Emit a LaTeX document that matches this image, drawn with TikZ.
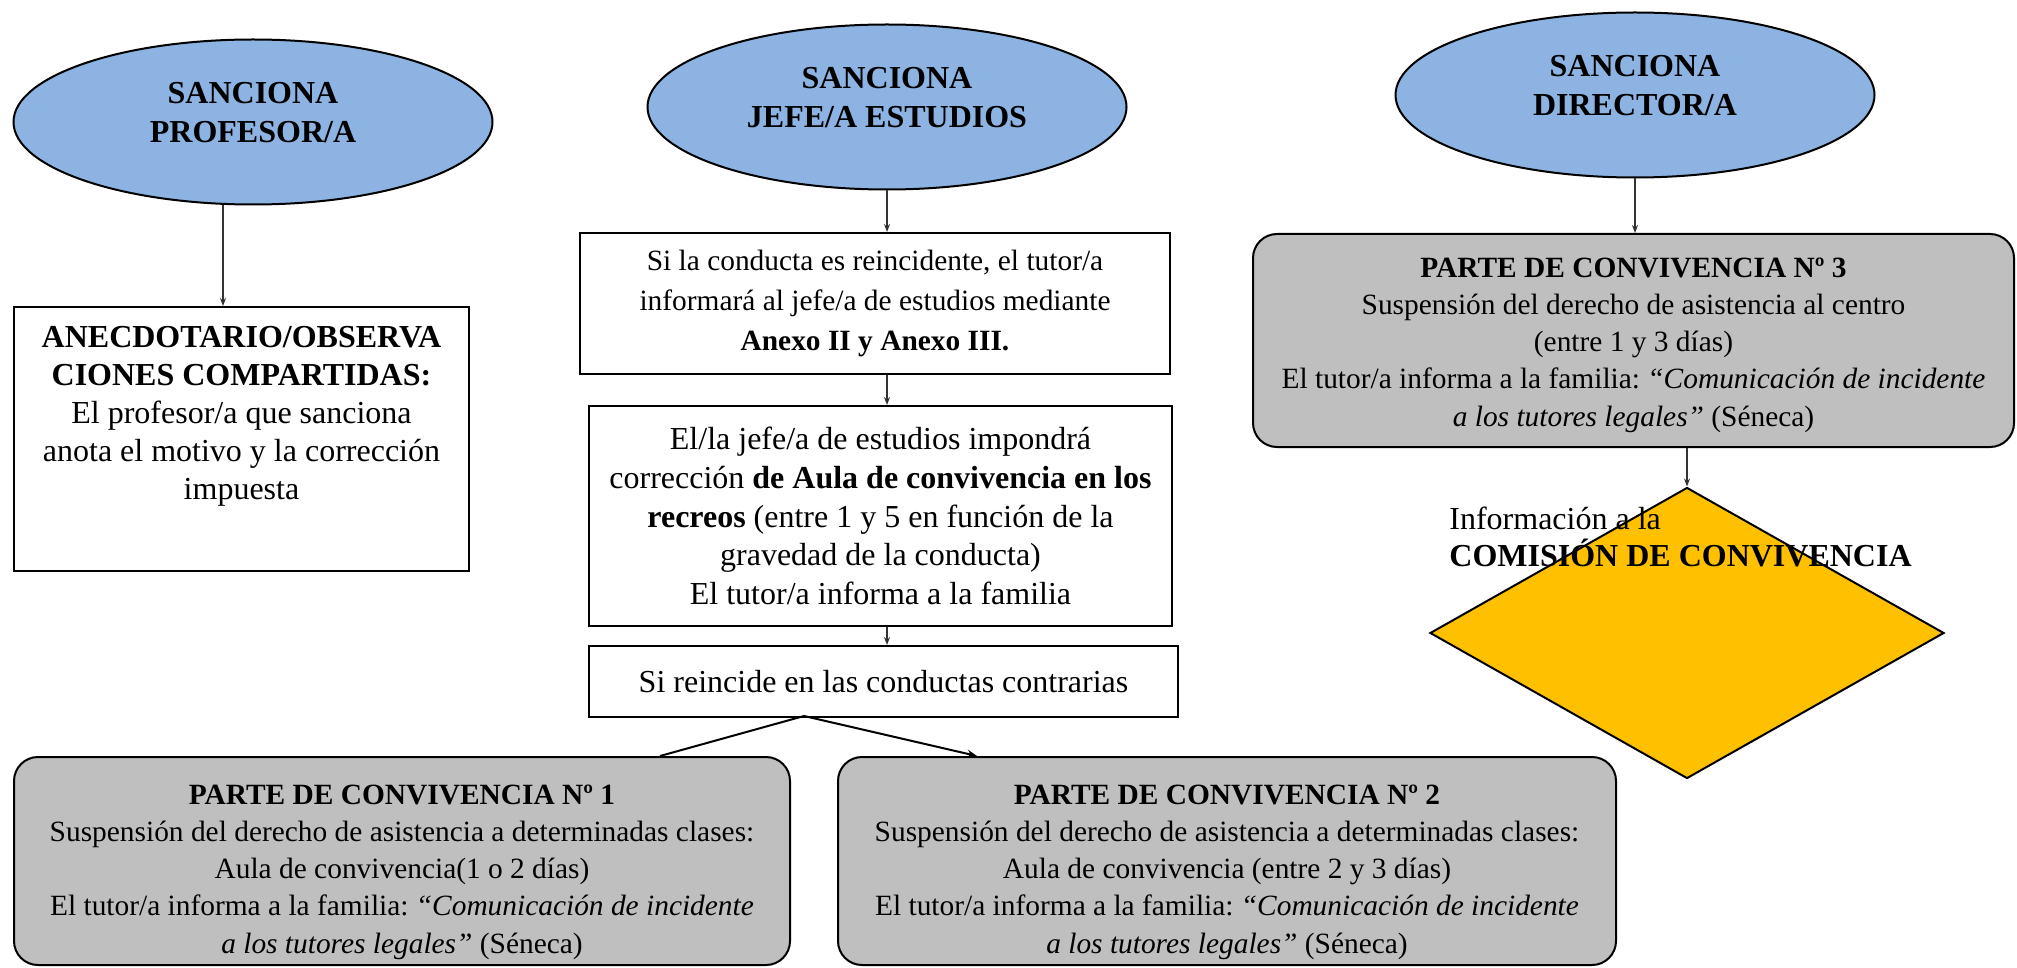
\documentclass[tikz,border=0pt]{standalone}
\usepackage{fontspec}
\setmainfont{Liberation Serif}
\frenchspacing
\usetikzlibrary{shapes.geometric,arrows.meta}
\definecolor{ellblue}{HTML}{8DB3E2}
\definecolor{boxgray}{HTML}{BFBFBF}
\definecolor{amber}{HTML}{FFC000}
\definecolor{linegray}{HTML}{333333}
\begin{document}
\begin{tikzpicture}[x=0.5pt,y=-0.5pt,
  txtA/.style={font=\fontsize{14.7pt}{18.6pt}\selectfont, align=center, inner sep=0pt},
  txtB/.style={font=\fontsize{16pt}{19.3pt}\selectfont, align=center, inner sep=0pt},
  txtBb/.style={font=\fontsize{16pt}{19.5pt}\selectfont\bfseries, align=center, inner sep=0pt},
  ell/.style={ellipse, draw=black, line width=1pt, fill=ellblue, minimum width=239.5pt, minimum height=82.5pt, inner sep=0pt},
  plainbox/.style={rectangle, draw=black, line width=1pt, fill=white, inner sep=0pt},
  partebox/.style={rectangle, rounded corners=12pt, draw=black, line width=1pt, fill=boxgray, inner sep=0pt},
  conn/.style={draw=linegray, line width=1pt, -{Stealth[length=4pt,width=3pt]}},
  link/.style={draw=black, line width=1pt},
]
\useasboundingbox (0,0) rectangle (2017,968);

% ellipses
\node[ell] (e1) at (253,122) {};
\node[txtBb] (e1t) at (253,113) {SANCIONA\\PROFESOR/A};
\node[ell] (e2) at (887,107) {};
\node[txtBb] (e2t) at (887,98) {SANCIONA\\JEFE/A ESTUDIOS};
\node[ell] (e3) at (1635,95) {};
\node[txtBb] (e3t) at (1635,86) {SANCIONA\\DIRECTOR/A};

% column 1
\node[plainbox, minimum width=227.5pt, minimum height=132pt] (b1) at (241.5,439) {};
\node[txtB, font=\fontsize{16pt}{19pt}\selectfont, anchor=north] (b1t) at (241.5,326) {\textbf{ANECDOTARIO/OBSERVA}\\\textbf{CIONES COMPARTIDAS:}\\El profesor/a que sanciona\\anota el motivo y la corrección\\impuesta};

% column 2
\node[plainbox, txtA, font=\fontsize{14.7pt}{20pt}\selectfont, minimum width=295pt, minimum height=70.5pt] (b2a) at (875,303.5)
  {Si la conducta es reincidente, el tutor/a\\informará al jefe/a de estudios mediante\\\textbf{Anexo II y Anexo III.}};
\node[plainbox, txtB, minimum width=291.5pt, minimum height=110pt] (b2b) at (880.5,516)
  {El/la jefe/a de estudios impondrá\\corrección \textbf{de Aula de convivencia en los}\\\textbf{recreos} (entre 1 y 5 en función de la\\gravedad de la conducta)\\El tutor/a informa a la familia};
\node[plainbox, txtB, minimum width=294.5pt, minimum height=35.5pt] (b2c) at (883.5,681.5)
  {Si reincide en las conductas contrarias};

% bottom parts
\node[partebox, minimum width=388pt, minimum height=104pt] (p1) at (402,861) {};
\node[txtA] (p1t) at (402,872)
  {\textbf{PARTE DE CONVIVENCIA Nº 1}\\Suspensión del derecho de asistencia a determinadas clases:\\Aula de convivencia(1 o 2 días)\\El tutor/a informa a la familia: \textit{``Comunicación de incidente}\\\textit{a los tutores legales''} (Séneca)};
\node[partebox, minimum width=389pt, minimum height=104pt] (p2) at (1227,861) {};
\node[txtA] (p2t) at (1227,872)
  {\textbf{PARTE DE CONVIVENCIA Nº 2}\\Suspensión del derecho de asistencia a determinadas clases:\\Aula de convivencia (entre 2 y 3 días)\\El tutor/a informa a la familia: \textit{``Comunicación de incidente}\\\textit{a los tutores legales''} (Séneca)};

% column 3
\node[partebox, minimum width=380.5pt, minimum height=106.5pt] (p3) at (1633.5,340.5) {};
\node[txtA] (p3t) at (1633.5,345)
  {\textbf{PARTE DE CONVIVENCIA Nº 3}\\Suspensión del derecho de asistencia al centro\\(entre 1 y 3 días)\\El tutor/a informa a la familia: \textit{``Comunicación de incidente}\\\textit{a los tutores legales''} (Séneca)};
\node[diamond, draw=black, line width=1pt, fill=amber, minimum width=257pt, minimum height=145.5pt, inner sep=0pt] (d) at (1687,633) {};
\node[txtB, font=\fontsize{16pt}{18.6pt}\selectfont, align=left, anchor=west] (dt) at (1449,537) {Información a la\\\textbf{COMISIÓN DE CONVIVENCIA}};

% connectors
\coordinate (k1) at (223,0);
\coordinate (k3) at (660,0);
\coordinate (k4) at (977,0);
\coordinate (apex) at (804,716);
\draw[conn] (e1.south -| k1) -- (b1.north -| k1);
\draw[conn] (e2.south) -- (e2.south |- b2a.north);
\draw[conn] (b2a.south -| e2.south) -- (b2b.north -| e2.south);
\draw[conn] (b2b.south -| e2.south) -- (b2c.north -| e2.south);
\draw[link] (apex) -- (p1.north -| k3);
\draw[link, -{Stealth[length=5pt,width=4pt]}] (apex) -- (p2.north -| k4);
\draw[conn] (e3.south) -- (e3.south |- p3.north);
\draw[conn] (p3.south -| d.north) -- (d.north);
\end{tikzpicture}
\end{document}
